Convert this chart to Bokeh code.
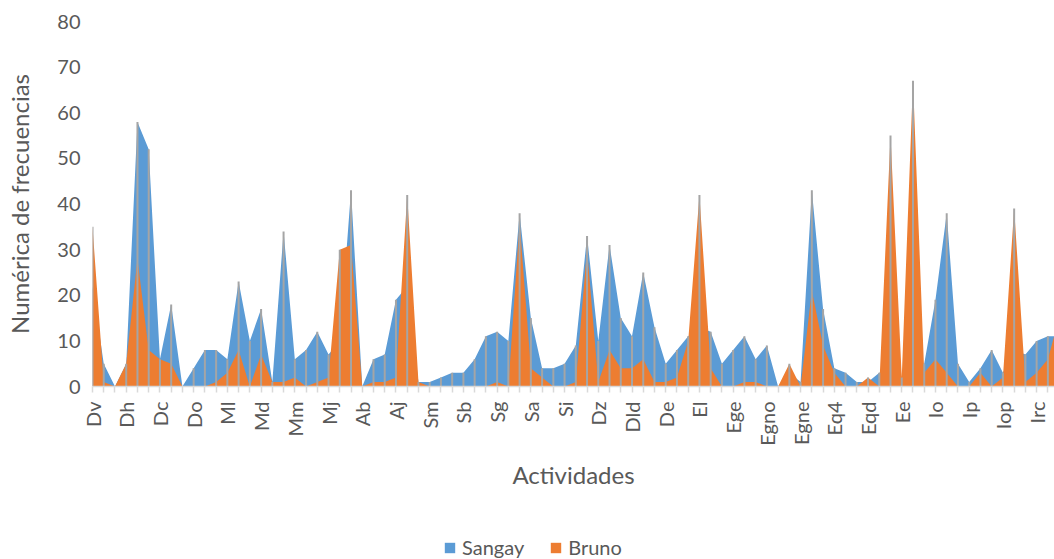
import math
from bokeh.plotting import figure
from bokeh.layouts import column
from bokeh.models import Range1d, FixedTicker, Legend, LegendItem, ColumnDataSource
from bokeh.embed import file_html
from bokeh.resources import INLINE

# ---- data -------------------------------------------------------------
tick_labels = ["Dv", "Dh", "Dc", "Do", "Ml", "Md", "Mm", "Mj", "Ab", "Aj",
               "Sm", "Sb", "Sg", "Sa", "Si", "Dz", "Dld", "De", "El", "Ege",
               "Egno", "Egne", "Eq4", "Eqd", "Ee", "Io", "Ip", "Iop", "Irc"]
label_step = 3

sangay = [22, 5, 0, 5, 58, 52, 6, 18, 0, 4,
          8, 8, 6, 23, 10, 17, 1, 34, 6, 8,
          12, 7, 10, 43, 0, 6, 7, 19, 22, 1,
          1, 2, 3, 3, 6, 11, 12, 10, 38, 15,
          4, 4, 5, 9, 33, 10, 31, 15, 11, 25,
          13, 5, 8, 11, 13, 12, 5, 8, 11, 6,
          9, 0, 3, 1, 43, 17, 4, 3, 1, 1,
          3, 4, 2, 5, 5, 19, 38, 5, 1, 4,
          8, 3, 8, 7, 10, 11, 11]

bruno = [35, 1, 0, 5, 28, 8, 6, 5, 0, 0,
         0, 1, 3, 8, 0, 7, 1, 1, 2, 0,
         1, 2, 30, 31, 0, 1, 1, 2, 42, 1,
         0, 0, 0, 0, 0, 0, 1, 0, 36, 4,
         2, 0, 0, 1, 30, 1, 8, 4, 4, 6,
         1, 1, 2, 10, 42, 4, 0, 0, 1, 1,
         0, 0, 5, 0, 21, 9, 3, 0, 0, 2,
         0, 55, 2, 67, 3, 6, 3, 0, 0, 3,
         0, 2, 39, 1, 3, 6, 15]

y_ticks = [0, 10, 20, 30, 40, 50, 60, 70, 80]

# ---- main figure ------------------------------------------------------
n = len(sangay)
xs = list(range(n))
top = [max(a, b) for a, b in zip(sangay, bruno)]
src = ColumnDataSource(dict(x=xs, sangay=sangay, bruno=bruno, top=top))

FONT = "Lato"
TXT = "#595959"
BLUE = "#5B9BD5"
ORANGE = "#ED7D31"

p = figure(width=1054, height=510, output_backend="svg", toolbar_location=None,
           x_range=Range1d(0, 85.59), y_range=Range1d(0, 80),
           min_border_left=92, min_border_right=0, min_border_top=21,
           min_border_bottom=124)
p.outline_line_color = None
p.grid.visible = False

p.varea(x="x", y1=0, y2="sangay", source=src, fill_color=BLUE)
p.varea(x="x", y1=0, y2="bruno", source=src, fill_color=ORANGE)
p.segment(x0="x", y0=0, x1="x", y1="top", source=src,
          line_color="#A5A5A5", line_width=2)

# x axis
xa = p.xaxis[0]
xa.ticker = FixedTicker(ticks=xs, minor_ticks=[])
xa.major_label_overrides = {i: (tick_labels[i // label_step] if i % label_step == 0 and i // label_step < len(tick_labels) else "") for i in xs}
xa.major_label_orientation = math.pi / 2
xa.major_label_text_font = FONT
xa.major_label_text_font_size = "20px"
xa.major_label_text_color = TXT
xa.major_label_standoff = 9
xa.major_tick_in = 0
xa.major_tick_out = 6
xa.major_tick_line_color = "#D9D9D9"
xa.major_tick_line_width = 1.5
xa.axis_line_color = "#D9D9D9"
xa.axis_line_width = 1.5
xa.axis_label = "Actividades"
xa.axis_label_text_font = FONT
xa.axis_label_text_font_size = "24px"
xa.axis_label_text_font_style = "normal"
xa.axis_label_text_color = TXT
xa.axis_label_standoff = 11

# y axis
ya = p.yaxis[0]
ya.ticker = FixedTicker(ticks=y_ticks, minor_ticks=[])
ya.axis_line_color = None
ya.major_tick_line_color = None
ya.minor_tick_line_color = None
ya.major_tick_out = 0
ya.major_tick_in = 0
ya.major_label_standoff = 12
ya.major_label_text_font = FONT
ya.major_label_text_font_size = "20px"
ya.major_label_text_color = TXT
ya.axis_label = "Numérica de frecuencias"
ya.axis_label_text_font = FONT
ya.axis_label_text_font_size = "24px"
ya.axis_label_text_font_style = "normal"
ya.axis_label_text_color = TXT
ya.axis_label_standoff = 20

# ---- legend strip -------------------------------------------------------
leg = figure(width=1054, height=49, output_backend="svg", toolbar_location=None,
             x_axis_location=None, y_axis_location=None,
             x_range=Range1d(0, 1), y_range=Range1d(0, 1),
             min_border_left=0, min_border_right=0, min_border_top=0,
             min_border_bottom=0)
leg.outline_line_color = None
leg.grid.visible = False
nan = float("nan")
key_src = ColumnDataSource(dict(x=[nan], y=[nan]))
ls = leg.varea(x="x", y1="y", y2="y", source=key_src, fill_color=BLUE)
lb = leg.varea(x="x", y1="y", y2="y", source=key_src, fill_color=ORANGE)

legend = Legend(items=[LegendItem(label="Sangay", renderers=[ls], index=0),
                       LegendItem(label="Bruno", renderers=[lb], index=0)],
                orientation="horizontal", location=(351, 0),
                border_line_color=None, background_fill_alpha=0,
                padding=0, margin=0, spacing=25, glyph_width=13, glyph_height=13,
                label_standoff=6, label_text_font=FONT,
                label_text_font_size="20px", label_text_color=TXT)
leg.add_layout(legend, "center")

layout = column(p, leg, spacing=0)
open("out.html", "w").write(file_html(layout, INLINE))
